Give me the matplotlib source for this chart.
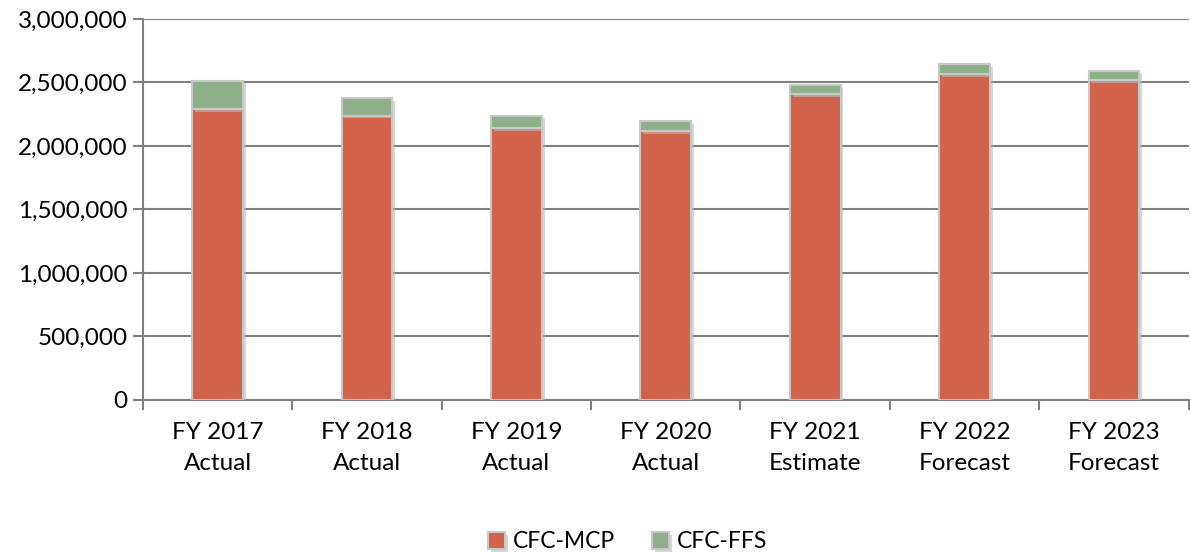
import matplotlib.pyplot as plt
import matplotlib.patheffects as pe
from matplotlib.ticker import FuncFormatter, FixedLocator
import numpy as np

# values
categories = ['FY 2017\nActual', 'FY 2018\nActual', 'FY 2019\nActual', 'FY 2020\nActual',
              'FY 2021\nEstimate', 'FY 2022\nForecast', 'FY 2023\nForecast']
cfc_mcp = [2292000, 2240000, 2140000, 2117000, 2408000, 2564000, 2518000]
cfc_ffs = [223000, 140000, 100000, 81000, 76000, 82000, 76000]

mcp_color = '#D0634A'
ffs_color = '#8FAF8B'

plt.rcParams['font.family'] = ['Lato', 'DejaVu Sans']

fig = plt.figure(figsize=(11.91, 5.52), dpi=100)
ax = fig.add_axes([0.12, 0.2754, 0.878, 0.6902])

x = np.arange(len(categories))
shadow = [pe.SimplePatchShadow(offset=(2, -2), shadow_rgbFace='#bbbbbb', alpha=0.6), pe.Normal()]
b1 = ax.bar(x, cfc_mcp, width=0.34, color=mcp_color, edgecolor='#c8c8c8', linewidth=1.5,
            label='CFC-MCP', zorder=3, path_effects=shadow)
b2 = ax.bar(x, cfc_ffs, bottom=cfc_mcp, width=0.34, color=ffs_color, edgecolor='#c8c8c8',
            linewidth=1.5, label='CFC-FFS', zorder=3, path_effects=shadow)

ax.set_xlim(-0.5, len(categories) - 0.5)
ax.set_ylim(0, 3000000)
ax.set_yticks(np.arange(0, 3000001, 500000))
ax.yaxis.set_major_formatter(FuncFormatter(lambda v, p: f'{int(v):,}'))
ax.grid(axis='y', color='#808080', linewidth=1.5, zorder=0)

ax.set_xticks(x)
ax.set_xticklabels(categories, linespacing=1.6)
ax.xaxis.set_minor_locator(FixedLocator(np.arange(-0.5, len(categories), 1.0)))
ax.tick_params(axis='x', which='major', length=0, pad=16, labelsize=17.5)
ax.tick_params(axis='x', which='minor', length=7, color='#808080', width=1.5)
ax.tick_params(axis='y', length=7, color='#808080', width=1.5, labelsize=17.5, pad=4)

for s in ['top', 'right']:
    ax.spines[s].set_visible(False)
for s in ['left', 'bottom']:
    ax.spines[s].set_color('#808080')
    ax.spines[s].set_linewidth(1.5)

fig.legend(handles=[b1, b2], loc='lower center', bbox_to_anchor=(0.527, -0.038), ncol=2,
           frameon=False, fontsize=16.5, handlelength=0.75, handleheight=0.75,
           handletextpad=0.35, columnspacing=1.6)

fig.savefig('out.png', dpi=100)
